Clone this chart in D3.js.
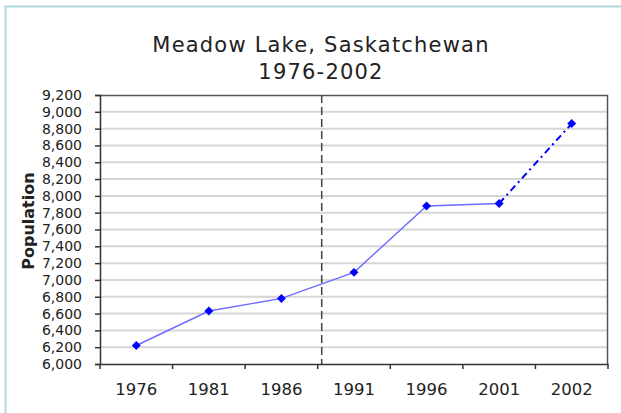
<!DOCTYPE html>
<html>
<head>
<meta charset="utf-8">
<script src="https://cdn.jsdelivr.net/npm/d3@7"></script>
<style>
  body { margin: 0; background: #fff; }
  text { font-family: "DejaVu Sans", Verdana, sans-serif; fill: #222; }
</style>
</head>
<body>
<div id="chart"></div>
<script>
// data
var years = ["1976", "1981", "1986", "1991", "1996", "2001", "2002"];
var population = [6220, 6630, 6780, 7090, 7880, 7910, 8860];
var projected = [false, false, false, false, false, false, true];
var yTicks = d3.range(6000, 9201, 200);
var boundaryYear = "1991";

var svgWidth = 621;
var svgHeight = 413;

var margin = { top: 95, right: 13, bottom: 49, left: 100 };
var chartWidth = svgWidth - margin.left - margin.right;
var chartHeight = svgHeight - margin.top - margin.bottom;

var svg = d3.select("#chart")
  .append("svg")
  .attr("width", svgWidth)
  .attr("height", svgHeight);

// outer frame (light teal, runs off the right/bottom edge)
svg.append("rect")
  .attr("x", 5.5)
  .attr("y", 6.5)
  .attr("width", 700)
  .attr("height", 500)
  .attr("fill", "none")
  .attr("stroke", "#b0d8de")
  .attr("stroke-width", 2);

// title
svg.append("text")
  .attr("x", 321)
  .attr("y", 52)
  .attr("text-anchor", "middle")
  .attr("font-size", "21px")
  .attr("letter-spacing", "1.2px")
  .text("Meadow Lake, Saskatchewan");

svg.append("text")
  .attr("x", 321)
  .attr("y", 79)
  .attr("text-anchor", "middle")
  .attr("font-size", "21px")
  .attr("letter-spacing", "1.2px")
  .text("1976-2002");

var chartGroup = svg.append("g")
  .attr("transform", `translate(${margin.left}, ${margin.top})`);

var xScale = d3.scaleBand()
  .domain(years)
  .range([0, chartWidth])
  .padding(0);

var yScale = d3.scaleLinear()
  .domain([6000, 9200])
  .range([chartHeight, 0]);

// gridlines
chartGroup.append("g")
  .selectAll("line")
  .data(yTicks.slice(1, -1))
  .enter()
  .append("line")
  .attr("x1", 0)
  .attr("x2", chartWidth)
  .attr("y1", d => yScale(d))
  .attr("y2", d => yScale(d))
  .attr("stroke", "#d6d6d6")
  .attr("stroke-width", 2);

// plot frame top / right
chartGroup.append("path")
  .attr("d", `M0,0.5H${chartWidth - 0.5}V${chartHeight}`)
  .attr("fill", "none")
  .attr("stroke", "#555")
  .attr("stroke-width", 1.5);

// dashed boundary line
chartGroup.append("line")
  .attr("x1", xScale(boundaryYear) + 4)
  .attr("x2", xScale(boundaryYear) + 4)
  .attr("y1", 0)
  .attr("y2", chartHeight)
  .attr("stroke", "#444")
  .attr("stroke-width", 1.5)
  .attr("stroke-dasharray", "8,4");

// axes
var bottomAxis = d3.axisBottom(xScale).tickSize(0).tickPadding(19);
var leftAxis = d3.axisLeft(yScale)
  .tickValues(yTicks)
  .tickFormat(d3.format(","))
  .tickSize(5)
  .tickPadding(13);

var xAxisG = chartGroup.append("g")
  .attr("transform", `translate(0, ${chartHeight})`)
  .call(bottomAxis);
xAxisG.selectAll("text").attr("font-size", "16.5px").attr("fill", "#333");
xAxisG.select(".domain").attr("stroke", "#333").attr("stroke-width", 1.5);

// x ticks at the category boundaries
xAxisG.selectAll(".bound")
  .data(years.concat(["end"]))
  .enter()
  .append("line")
  .attr("class", "bound")
  .attr("x1", (d, i) => i * xScale.step())
  .attr("x2", (d, i) => i * xScale.step())
  .attr("y1", 0)
  .attr("y2", 5)
  .attr("stroke", "#333")
  .attr("stroke-width", 1.5);

var yAxisG = chartGroup.append("g").call(leftAxis);
yAxisG.selectAll("text").attr("font-size", "14px").attr("fill", "#333");
yAxisG.selectAll("line").attr("stroke", "#333").attr("stroke-width", 1.5);
yAxisG.select(".domain").attr("stroke", "#333").attr("stroke-width", 1.5);

// y axis title
chartGroup.append("text")
  .attr("transform", "rotate(-90)")
  .attr("x", -(yScale(7700)))
  .attr("y", -margin.left + 34)
  .attr("text-anchor", "middle")
  .attr("font-size", "16px")
  .attr("font-weight", "bold")
  .text("Population");

var points = years.map((y, i) => ({ year: y, value: population[i], proj: projected[i] }));
var line = d3.line()
  .x(d => xScale(d.year) + xScale.bandwidth() / 2)
  .y(d => yScale(d.value));

var actual = points.filter(d => !d.proj);
var lastActual = actual[actual.length - 1];
var projPts = [lastActual].concat(points.filter(d => d.proj));

chartGroup.append("path")
  .datum(actual)
  .attr("d", line)
  .attr("fill", "none")
  .attr("stroke", "#6b6bff")
  .attr("stroke-width", 1.4);

chartGroup.append("path")
  .datum(projPts)
  .attr("d", line)
  .attr("fill", "none")
  .attr("stroke", "#0000ff")
  .attr("stroke-width", 2)
  .attr("stroke-dasharray", "7,4,2,4");

// diamond markers
chartGroup.selectAll(".marker")
  .data(points)
  .enter()
  .append("path")
  .attr("class", "marker")
  .attr("d", d3.symbol().type(d3.symbolSquare).size(40))
  .attr("transform", d => `translate(${xScale(d.year) + xScale.bandwidth() / 2}, ${yScale(d.value)}) rotate(45)`)
  .attr("fill", "#0000ff");
</script>
</body>
</html>
